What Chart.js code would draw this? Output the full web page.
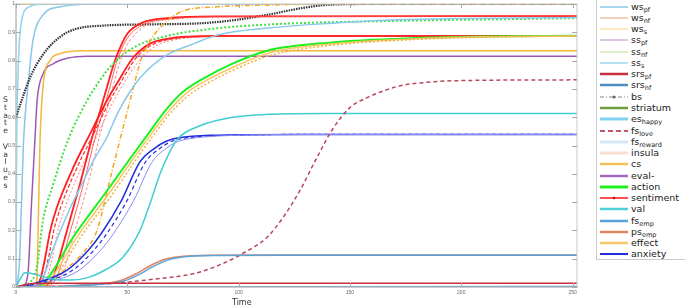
<!DOCTYPE html>
<html>
<head>
<meta charset="utf-8">
<script src="https://cdn.jsdelivr.net/npm/chart.js@4.4.0/dist/chart.umd.min.js"></script>
<style>
    html, body { margin: 0; padding: 0; background: #fff; }
    #wrap { position: relative; width: 685px; height: 307px; overflow: hidden; font-family: "DejaVu Sans", sans-serif; }
    #chartBox { position: absolute; left: 0; top: 0; width: 685px; height: 307px; }
    #yTitle { position: absolute; left: 1px; top: 95px; font-size: 7.7px; line-height: 8px; color: #333;
              writing-mode: vertical-lr; text-orientation: upright; letter-spacing: -1.2px; }
    #xTitle { position: absolute; left: 232px; top: 298px; font-size: 8px; color: #333; }
    #legend { position: absolute; left: 596px; top: -1px; width: 100px; height: 261px; border: 1px solid #ccc;
              background: #fff; box-sizing: border-box; padding-top: 1px; }
    .row { height: 11.27px; display: flex; align-items: center; }
    .row svg { margin-left: 3px; margin-right: 3px; flex: none; }
    .row span { font-size: 9.5px; color: #222; white-space: nowrap; line-height: 10px; }
    .row sub { font-size: 6.5px; vertical-align: -1.5px; line-height: 0; }
</style>
</head>
<body>
<div id="wrap">
    <div id="chartBox"><canvas id="stateChart"></canvas></div>
    <div id="yTitle">State Values</div>
    <div id="xTitle">Time</div>
    <div id="legend"></div>
</div>
<script>
// axis ranges and ticks
const xMax = 252;
const xTickValues = [0, 50, 100, 150, 200, 250];
const yTickValues = [0, 0.1, 0.2, 0.3, 0.4, 0.5, 0.6, 0.7, 0.8, 0.9, 1];

// curves, [time, value] pairs
const topOrange   = [[0,1],[252,1]];
const esHappy     = [[0,0],[0.3,0.48],[1,0.77],[2.5,0.94],[6,0.99],[12,1],[252,1]];
const wsPf        = [[0,0],[1.5,0.08],[2.5,0.3],[3.3,0.5],[5.5,0.72],[7.6,0.87],[12,0.96],[20,0.99],[35,1],[252,1]];
const evalMinus   = [[0,0],[4,0.01],[5.5,0.06],[7,0.3],[8.5,0.52],[9.5,0.66],[12,0.75],[17,0.79],[23,0.808],[32,0.815],[252,0.815]];
const csLine      = [[0,0],[8,0.003],[9.3,0.02],[10.2,0.3],[10.8,0.52],[12.3,0.72],[15.3,0.8],[20,0.825],[30,0.835],[252,0.835]];
const bsLine      = [[0,0.6],[3,0.67],[6.3,0.74],[12,0.82],[20,0.885],[27,0.912],[40,0.924],[60,0.928],[83,0.932],[97,0.942],[113,0.962],[128,0.985],[140,0.997],[160,1],[252,1]];
const greenDotted = [[0,0],[6,0.015],[9.4,0.07],[12,0.23],[16.6,0.36],[23.4,0.52],[32,0.66],[37.7,0.73],[42,0.775],[52.6,0.845],[67.8,0.887],[90,0.914],[120,0.93],[168,0.94],[252,0.95]];
const ssS         = [[0,0],[8,0.002],[11,0.02],[13,0.05],[16,0.12],[20,0.2],[24.4,0.28],[30,0.37],[35,0.45],[40.9,0.53],[46,0.62],[51.2,0.69],[57,0.75],[67.8,0.82],[80,0.86],[90.3,0.89],[112.8,0.915],[142,0.932],[172,0.944],[252,0.952]];
const redHighA    = [[0,0],[12,0.002],[16.6,0.035],[22.9,0.2],[28.8,0.366],[34.6,0.54],[37.7,0.62],[41,0.71],[44,0.79],[47,0.85],[50,0.895],[57,0.935],[68,0.95],[90,0.956],[252,0.957]];
const redHighB    = [[0,0],[13,0.002],[18,0.03],[24.5,0.2],[30.5,0.37],[36,0.54],[39,0.62],[42.3,0.71],[45,0.79],[48,0.85],[51,0.89],[58,0.93],[70,0.948],[90,0.955],[252,0.957]];
const redHighC    = [[0,0],[15,0.002],[20,0.03],[26.5,0.2],[32.5,0.37],[37.8,0.54],[40.6,0.62],[43.6,0.71],[46.5,0.79],[49.5,0.85],[52.5,0.885],[59,0.928],[72,0.947],[90,0.954],[252,0.957]];
const redLowA     = [[0,0],[9,0.003],[11,0.03],[13,0.1],[15.4,0.2],[18.3,0.28],[25.6,0.42],[33.2,0.54],[40.9,0.66],[45.4,0.72],[52.6,0.81],[60.2,0.86],[67.8,0.877],[90,0.887],[252,0.887]];
const redLowB     = [[0,0],[10,0.003],[12.2,0.03],[14.5,0.1],[17,0.2],[20,0.28],[27.3,0.42],[34.8,0.54],[42.3,0.66],[46.8,0.72],[54,0.81],[61.5,0.857],[69,0.875],[90,0.886],[252,0.887]];
const redLowC     = [[0,0],[11.5,0.003],[13.8,0.03],[16.2,0.1],[18.8,0.2],[22,0.28],[29.2,0.42],[36.7,0.54],[44,0.66],[48.4,0.72],[55.4,0.8],[62.8,0.852],[70.4,0.872],[92,0.885],[252,0.887]];
const actionLine  = [[0,0],[10.8,0.002],[16,0.05],[25.6,0.175],[40.9,0.34],[50,0.44],[60.2,0.55],[67.8,0.63],[75,0.69],[82.7,0.73],[97.5,0.79],[112.8,0.835],[142,0.864],[172,0.877],[210,0.885],[252,0.888]];
const effectLine  = [[0,0],[12,0.002],[17.5,0.05],[27,0.172],[42.2,0.335],[51.5,0.44],[61.6,0.55],[69,0.625],[76.5,0.685],[84.3,0.725],[99,0.782],[114,0.828],[144,0.86],[174,0.875],[210,0.884],[252,0.887]];
const effectDots  = [[0,0],[13,0.002],[19,0.05],[28.5,0.17],[43.5,0.33],[53,0.44],[63,0.55],[70,0.62],[78,0.68],[86,0.72],[100,0.775],[115,0.82],[145,0.857],[175,0.873],[210,0.883],[252,0.887]];
const orangeDash  = [[0,0],[10,0.003],[20,0.05],[30,0.12],[36.4,0.2],[42.2,0.38],[46.7,0.52],[52.6,0.7],[56,0.8],[60.2,0.87],[67.8,0.94],[75,0.975],[90.3,0.99],[112.8,0.996],[140,1],[252,1]];
const anxietyA    = [[0,0],[1.8,0],[9,0.014],[23,0.06],[32.5,0.13],[38.4,0.19],[47.4,0.306],[55.5,0.44],[62.2,0.49],[67.5,0.515],[73,0.527],[88,0.536],[127.6,0.539],[252,0.539]];
const anxietyB    = [[0,0],[1.8,0],[10.8,0.014],[25.6,0.06],[35,0.13],[40.9,0.19],[49.9,0.306],[58,0.44],[64.7,0.49],[70,0.515],[75,0.525],[90.3,0.535],[127.6,0.539],[252,0.539]];
const anxietyC    = [[0,0],[2,0],[13,0.014],[28.5,0.06],[38,0.13],[43.9,0.19],[52.9,0.306],[61,0.44],[67.5,0.49],[72.5,0.513],[78,0.524],[92,0.534],[127.6,0.539],[252,0.539]];
const valLine     = [[0,0],[2,0.03],[4,0.05],[8.5,0.045],[15,0.03],[20,0.025],[25,0.025],[33,0.035],[40,0.06],[48,0.105],[55.7,0.2],[60.2,0.295],[64.7,0.4],[68,0.46],[72.3,0.52],[82.7,0.57],[97.5,0.6],[112.8,0.61],[140,0.613],[252,0.613]];
const psEmp       = [[0,0],[19.8,0.003],[40.9,0.014],[46.7,0.022],[53.5,0.045],[60.2,0.075],[67,0.098],[72.3,0.106],[87,0.112],[120,0.113],[252,0.113]];
const fsEmp       = [[0,0],[20,0.002],[42,0.012],[48,0.02],[55,0.043],[61.5,0.072],[68,0.095],[74,0.105],[90,0.111],[120,0.112],[252,0.112]];
const fsLove      = [[0,0],[28.8,0.005],[46.7,0.015],[64.7,0.03],[75,0.04],[82.7,0.053],[92,0.08],[100.6,0.113],[112.8,0.176],[120,0.246],[127.6,0.342],[135.2,0.458],[142.4,0.56],[150,0.634],[157.7,0.669],[172.5,0.711],[182.8,0.722],[198,0.729],[252,0.732]];
const srsPf       = [[0,0],[5,0.01],[10,0.013],[252,0.013]];
const srsNf       = [[0,0],[252,0.002]];

// legend rows
const legendNames  = ['ws','ws','ws','ss','ss','ss','srs','srs','bs','striatum','es','fs','fs','insula','cs','eval-','action','sentiment','val','fs','ps','effect','anxiety'];
const legendSubs   = ['pf','nf','s','pf','nf','s','pf','nf','','','happy','love','reward','','','','','','','emp','emp','',''];
const legendColors = ['#8ccbe8','#f2c2ad','#fbe2a4','#d7b3e2','#cfe8b4','#9ed6f0','#c72f3f','#4f8cc2','#888888','#6e9e3a','#7fd0f0','#c45466','#d2e6f6','#f9dfd4','#f4c25c','#a368c0','#1ef01e','#ff4f4f','#4fd0d6','#5aa2da','#e2845c','#f6c66a','#1f2fdc'];
const legendWidths = [1.5,1.5,1.5,1.5,1.5,1.5,2.5,2.5,1.2,2.5,3,2,3,3,2.5,2.5,3,2,2.5,2.5,2.5,2.5,2];

function series(label, pts, color, width, dash) {
    return {
        label: label,
        data: pts.map(p => ({ x: p[0], y: p[1] })),
        borderColor: color,
        backgroundColor: color,
        borderWidth: width,
        borderDash: dash || [],
        pointRadius: 0,
        fill: false,
        tension: 0.4,
        cubicInterpolationMode: 'monotone'
    };
}

const datasets = [
    series('srs_nf', srsNf, '#4f8cc2', 1.5),
    series('srs_pf', srsPf, '#c72f3f', 1.5),
    series('fs_emp', fsEmp, '#5aa2da', 1.5),
    series('ps_emp', psEmp, '#e2845c', 1.5),
    series('fs_love', fsLove, '#b8485c', 1.5, [4, 3]),
    series('val', valLine, '#40cdd2', 1.5),
    series('anxiety 3', anxietyC, '#8a8af5', 1),
    series('anxiety 2', anxietyB, '#2a2ae6', 1.2, [4, 3]),
    series('anxiety', anxietyA, '#1f2fdc', 1.5),
    series('effect 2', effectDots, '#f0b040', 1.5, [2, 2]),
    series('effect', effectLine, '#f6c66a', 1.5),
    series('action', actionLine, '#1ef01e', 2),
    series('ss_s', ssS, '#86c9ec', 1.5),
    series('effect 3', orangeDash, '#f2a623', 1.5, [5, 2, 1, 2]),
    series('green dotted', greenDotted, '#3fe03f', 2, [2, 2]),
    series('sentiment 6', redLowC, 'rgba(255,70,70,0.7)', 1, [2, 2]),
    series('sentiment 5', redLowB, '#ff3030', 1.2, [4, 2]),
    series('sentiment 4', redLowA, '#ff1f1f', 1.8),
    series('sentiment 3', redHighC, 'rgba(255,90,90,0.7)', 1, [3, 2]),
    series('sentiment 2', redHighB, 'rgba(255,60,60,0.8)', 1),
    series('sentiment', redHighA, '#ff1f1f', 1.8),
    series('cs', csLine, '#f4b63c', 1.5),
    series('eval-', evalMinus, '#9b59b6', 1.5),
    series('bs', bsLine, '#333333', 2.2, [1.5, 1]),
    series('ws_pf', wsPf, '#86c6ea', 1.5),
    series('es_happy', esHappy, '#8ad6f0', 1.5),
    series('ws_s', topOrange, '#f5a623', 1.5)
];

// inward tick marks and frame on all four sides
const frameTicks = {
    id: 'frameTicks',
    afterDraw(chart) {
        const ctx = chart.ctx;
        const a = chart.chartArea;
        const x = chart.scales.x;
        const y = chart.scales.y;
        ctx.save();
        ctx.strokeStyle = '#c8c8c8';
        ctx.lineWidth = 1;
        ctx.strokeRect(a.left, a.top, a.right - a.left, a.bottom - a.top);
        ctx.strokeStyle = '#aaaaaa';
        ctx.beginPath();
        y.ticks.forEach(t => {
            const p = Math.round(y.getPixelForValue(t.value)) + 0.5;
            ctx.moveTo(a.left, p); ctx.lineTo(a.left + 5, p);
            ctx.moveTo(a.right - 5, p); ctx.lineTo(a.right, p);
        });
        x.ticks.forEach(t => {
            const p = Math.round(x.getPixelForValue(t.value)) + 0.5;
            ctx.moveTo(p, a.bottom); ctx.lineTo(p, a.bottom - 4);
            ctx.moveTo(p, a.top); ctx.lineTo(p, a.top + 4);
        });
        ctx.stroke();
        ctx.restore();
    }
};

new Chart(document.getElementById('stateChart'), {
    type: 'line',
    data: { datasets: datasets },
    options: {
        responsive: true,
        maintainAspectRatio: false,
        animation: false,
        layout: { padding: { top: 3, right: 108, left: 0, bottom: 0 } },
        plugins: {
            legend: { display: false },
            tooltip: { enabled: false }
        },
        scales: {
            x: {
                type: 'linear',
                min: 0,
                max: xMax,
                afterFit: s => { s.height = 20; },
                afterBuildTicks: s => { s.ticks = xTickValues.map(v => ({ value: v })); },
                grid: { display: false, drawTicks: false },
                border: { display: true, color: '#d0d0d0', width: 2 },
                ticks: { font: { size: 5 }, color: '#666', padding: 3, maxRotation: 0, autoSkip: false }
            },
            y: {
                min: 0,
                max: 1,
                afterFit: s => { s.width = 16; },
                afterBuildTicks: s => { s.ticks = yTickValues.map(v => ({ value: v })); },
                grid: { display: false, drawTicks: false },
                border: { display: true, color: '#d0d0d0', width: 2 },
                ticks: { font: { size: 5 }, color: '#666', padding: 1, autoSkip: false,
                         callback: v => String(Math.round(v * 10) / 10) }
            }
        }
    },
    plugins: [frameTicks]
});

// html legend with subscripts
const legend = document.getElementById('legend');
legendNames.forEach((name, i) => {
    const c = legendColors[i];
    const w = legendWidths[i];
    let dash = '';
    if (name === 'bs') dash = 'stroke-dasharray="4 2 1 2"';
    if (name === 'fs' && legendSubs[i] === 'love') dash = 'stroke-dasharray="5 3"';
    let marker = '';
    if (name === 'bs') marker = '<circle cx="14" cy="4" r="1.5" fill="#666"/>';
    if (name === 'sentiment') marker = '<circle cx="14" cy="4" r="1.3" fill="#e00000"/>';
    const row = document.createElement('div');
    row.className = 'row';
    row.innerHTML = '<svg width="28" height="8"><line x1="0" y1="4" x2="28" y2="4" stroke="' + c +
        '" stroke-width="' + w + '" ' + dash + '/>' + marker + '</svg>' +
        '<span>' + name + (legendSubs[i] ? '<sub>' + legendSubs[i] + '</sub>' : '') + '</span>';
    legend.appendChild(row);
});
</script>
</body>
</html>
